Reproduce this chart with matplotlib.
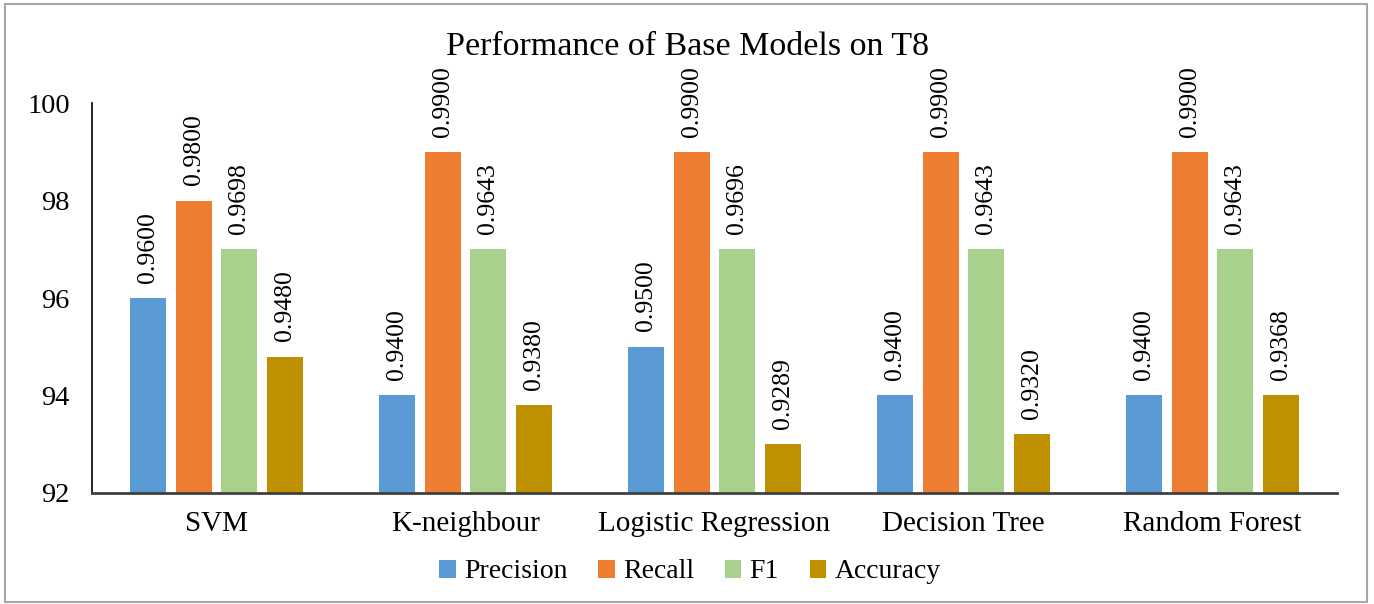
import numpy as np
import matplotlib
matplotlib.use('Agg')
import matplotlib.pyplot as plt
from matplotlib.patches import Rectangle

plt.rcParams['font.family'] = ['Liberation Serif', 'DejaVu Serif']

models = ["SVM", "K-neighbour", "Logistic Regression", "Decision Tree", "Random Forest"]
metrics = ["Precision", "Recall", "F1", "Accuracy"]
colours = ["#5B9BD5", "#ED7D31", "#A9D18E", "#BF9000"]

# bar heights as drawn (y axis is in percent)
precision = [96.0, 94.0, 95.0, 94.0, 94.0]
recall = [98.0, 99.0, 99.0, 99.0, 99.0]
f1 = [97.0, 97.0, 97.0, 97.0, 97.0]
accuracy = [94.8, 93.8, 93.0, 93.2, 94.0]

# printed labels above each bar
precision_lbl = ["0.9600", "0.9400", "0.9500", "0.9400", "0.9400"]
recall_lbl = ["0.9800", "0.9900", "0.9900", "0.9900", "0.9900"]
f1_lbl = ["0.9698", "0.9643", "0.9696", "0.9643", "0.9643"]
accuracy_lbl = ["0.9480", "0.9380", "0.9289", "0.9320", "0.9368"]

yticks = [92, 94, 96, 98, 100]

series = [precision, recall, f1, accuracy]
labels = [precision_lbl, recall_lbl, f1_lbl, accuracy_lbl]

fig = plt.figure(figsize=(13.74, 6.04), dpi=100)
ax = fig.add_axes([0.067, 0.184, 0.906, 0.645])

x = np.arange(len(models))
step, width = 0.183, 0.145
for i, (vals, lbls, col, name) in enumerate(zip(series, labels, colours, metrics)):
    pos = x + (i - 1.5) * step
    ax.bar(pos, np.array(vals) - 92, bottom=92, width=width, color=col, label=name, zorder=2)
    for px, v, t in zip(pos, vals, lbls):
        ax.annotate(t, (px, v), xytext=(0, 11), textcoords='offset points',
                    rotation=90, ha='center', va='bottom', fontsize=18.5, clip_on=False)

ax.set_xlim(-0.5, len(models) - 0.5)
ax.set_ylim(92, 100)
ax.set_yticks(yticks)
ax.set_yticklabels([str(t) for t in yticks], fontsize=20.5)
ax.set_xticks(x)
ax.set_xticklabels(models, fontsize=21)
ax.tick_params(axis='both', length=0)
ax.tick_params(axis='y', pad=16)
ax.tick_params(axis='x', pad=13)
for s in ['top', 'right']:
    ax.spines[s].set_visible(False)
ax.spines['left'].set_color('black')
ax.spines['left'].set_linewidth(1.2)
ax.spines['bottom'].set_color('#404040')
ax.spines['bottom'].set_linewidth(2)

fig.text(0.5, 0.922, "Performance of Base Models on T8", ha='center', va='center', fontsize=24.5)

fig.legend(loc='center', bbox_to_anchor=(0.502, 0.053), ncol=4, frameon=False,
           fontsize=20, handlelength=0.6, handleheight=0.6, handletextpad=0.3,
           columnspacing=1.1)

fig.patches.append(Rectangle((0.004, 0.004), 0.991, 0.99, transform=fig.transFigure,
                             fill=False, edgecolor='#a6a6a6', linewidth=1.5))

fig.savefig('out.png', dpi=100)
